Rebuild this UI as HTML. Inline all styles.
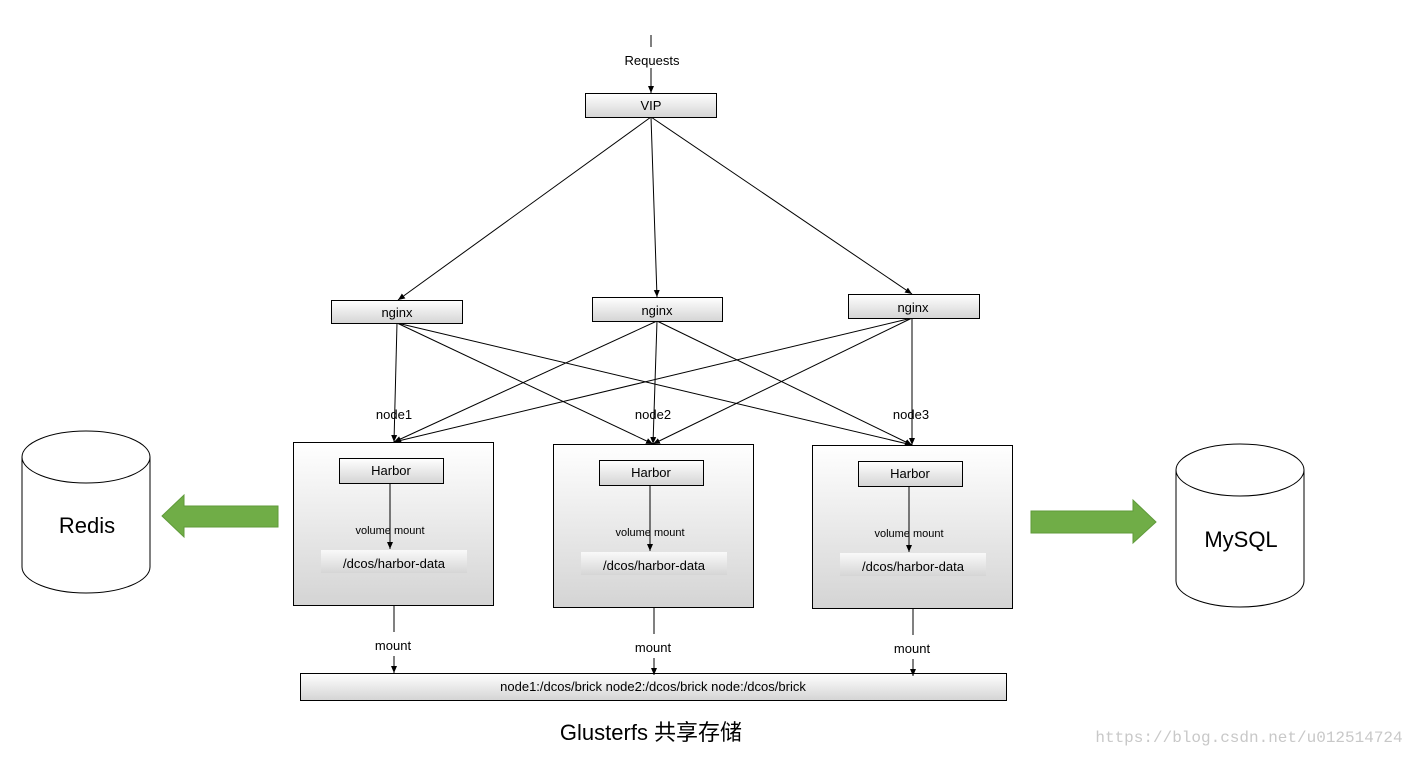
<!DOCTYPE html>
<html><head><meta charset="utf-8"><style>body{margin:0;background:#fff}svg{display:block}text{font-family:"Liberation Sans","Noto Sans CJK SC",sans-serif;fill:#000}</style></head><body>
<svg width="1420" height="757" viewBox="0 0 1420 757" xmlns="http://www.w3.org/2000/svg">
<defs>
<linearGradient id="g" x1="0" y1="0" x2="0" y2="1"><stop offset="0" stop-color="#fff"/><stop offset="1" stop-color="#d4d4d4"/></linearGradient>
<marker id="a" markerWidth="8" markerHeight="8" refX="7" refY="4" orient="auto" markerUnits="userSpaceOnUse"><path d="M0,1 L7,4 L0,7 z" fill="#000"/></marker>
</defs>
<g stroke="#000" stroke-width="1" fill="none">
<line x1="651" y1="35" x2="651" y2="47"/>
<line x1="651" y1="68" x2="651" y2="93" marker-end="url(#a)"/>
<line x1="651" y1="117" x2="398" y2="300" marker-end="url(#a)"/>
<line x1="651" y1="117" x2="657" y2="297" marker-end="url(#a)"/>
<line x1="651" y1="117" x2="912" y2="294" marker-end="url(#a)"/>
<line x1="397" y1="323" x2="394" y2="442" marker-end="url(#a)"/>
<line x1="397" y1="323" x2="653" y2="444" marker-end="url(#a)"/>
<line x1="397" y1="323" x2="912" y2="445" marker-end="url(#a)"/>
<line x1="657" y1="321" x2="394" y2="442" marker-end="url(#a)"/>
<line x1="657" y1="321" x2="653" y2="444" marker-end="url(#a)"/>
<line x1="657" y1="321" x2="912" y2="445" marker-end="url(#a)"/>
<line x1="912" y1="318" x2="394" y2="442" marker-end="url(#a)"/>
<line x1="912" y1="318" x2="653" y2="444" marker-end="url(#a)"/>
<line x1="912" y1="318" x2="912" y2="445" marker-end="url(#a)"/>
</g>
<g stroke="#000" fill="url(#g)">
<rect x="585.5" y="93.5" width="131" height="24"/>
<rect x="331.5" y="300.5" width="131" height="23"/>
<rect x="592.5" y="297.5" width="130" height="24"/>
<rect x="848.5" y="294.5" width="131" height="24"/>
<rect x="300.5" y="673.5" width="706" height="27"/>
</g>
<g font-size="13" text-anchor="middle">
<rect x="620" y="50" width="64" height="16" fill="#fff"/>
<text x="652" y="65">Requests</text>
<text x="651" y="110">VIP</text>
<text x="397" y="317">nginx</text>
<text x="657" y="315">nginx</text>
<text x="913" y="312">nginx</text>
<text x="394" y="419">node1</text>
<text x="653" y="419">node2</text>
<text x="911" y="419">node3</text>
<text x="653" y="691">node1:/dcos/brick node2:/dcos/brick node:/dcos/brick</text>
</g>
<g id="n1" transform="translate(293,442)">
<rect x="0.5" y="0.5" width="200" height="163" fill="url(#g)" stroke="#000"/>
<rect x="46.5" y="16.5" width="104" height="25" fill="url(#g)" stroke="#000"/>
<text x="98" y="33" font-size="13" text-anchor="middle">Harbor</text>
<rect x="28" y="108" width="146" height="23" fill="url(#g)" opacity="0.8"/>
<line x1="97" y1="42" x2="97" y2="107" stroke="#000" marker-end="url(#a)"/>
<text x="97" y="92" font-size="11" text-anchor="middle">volume mount</text>
<text x="101" y="126" font-size="13" text-anchor="middle">/dcos/harbor-data</text>
<line x1="101" y1="164" x2="101" y2="190" stroke="#000"/>
<text x="100" y="208" font-size="13" text-anchor="middle">mount</text>
<line x1="101" y1="214" x2="101" y2="231" stroke="#000" marker-end="url(#a)"/>
</g>
<use href="#n1" transform="translate(260,2)"/>
<use href="#n1" transform="translate(519,3)"/>
<g stroke="#000" fill="#fff">
<path d="M22,457 L22,567 A64,26 0 0 0 150,567 L150,457"/>
<ellipse cx="86" cy="457" rx="64" ry="26"/>
<path d="M1176,470 L1176,581 A64,26 0 0 0 1304,581 L1304,470"/>
<ellipse cx="1240" cy="470" rx="64" ry="26"/>
</g>
<text x="87" y="533" font-size="22" text-anchor="middle">Redis</text>
<text x="1241" y="547" font-size="22" text-anchor="middle">MySQL</text>
<polygon points="278,506 184,506 184,495 162,516 184,537 184,527 278,527" fill="#70ad47" stroke="#5f9a3a"/>
<polygon points="1031,511 1133,511 1133,500 1156,522 1133,543 1133,533 1031,533" fill="#70ad47" stroke="#5f9a3a"/>
<text x="651" y="740" font-size="22" text-anchor="middle">Glusterfs 共享存储</text>
<text x="1249" y="742" font-size="16" text-anchor="middle" fill="#c8c8c8" style="fill:#c8c8c8;font-family:'Liberation Mono',monospace">https://blog.csdn.net/u012514724</text>
</svg>
</body></html>
